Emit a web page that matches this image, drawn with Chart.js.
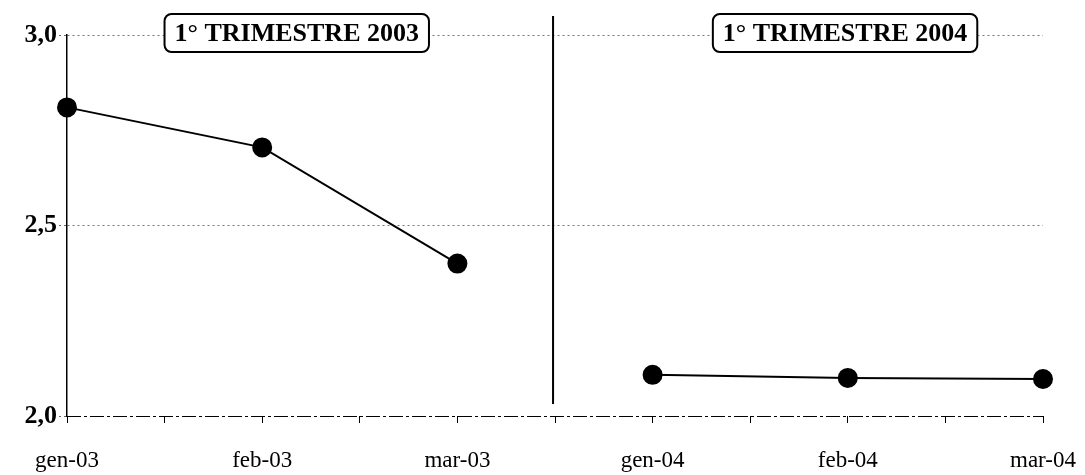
<!DOCTYPE html>
<html>
<head>
<meta charset="utf-8">
<script src="https://cdn.jsdelivr.net/npm/chart.js@4"></script>
<style>
  html, body { margin: 0; padding: 0; background: #fff; }
  #wrap { width: 1085px; height: 475px; }
</style>
</head>
<body>
<div id="wrap"><canvas id="chart" width="1085" height="475"></canvas></div>
<script>
// months on the x axis (index = position)
const months = ['gen-03', 'feb-03', 'mar-03', 'gen-04', 'feb-04', 'mar-04'];
const values2003 = [2.81, 2.705, 2.40];
const values2004 = [2.108, 2.10, 2.097];
const yTicks = [2.0, 2.5, 3.0];
const boxTitles = ['1° TRIMESTRE 2003', '1° TRIMESTRE 2004'];

const serif = '"Liberation Serif", "DejaVu Serif", serif';

// dash-dot base line, divider between the two quarters, title boxes
const decorations = {
  id: 'decorations',
  beforeDatasetsDraw(chart) {
    const { ctx, chartArea } = chart;
    ctx.save();
    ctx.strokeStyle = '#000';
    ctx.lineWidth = 1;
    ctx.setLineDash([14, 3, 3, 3]);
    ctx.beginPath();
    ctx.moveTo(chartArea.left, chartArea.bottom + 0.5);
    ctx.lineTo(chartArea.right, chartArea.bottom + 0.5);
    ctx.stroke();
    ctx.restore();
  },
  afterDatasetsDraw(chart) {
    const { ctx, chartArea, scales } = chart;
    const x = scales.x;
    ctx.save();
    const dx = x.getPixelForValue(2.49);
    ctx.strokeStyle = '#000';
    ctx.lineWidth = 2;
    ctx.beginPath();
    ctx.moveTo(dx, chartArea.top - 19);
    ctx.lineTo(dx, chartArea.bottom - 12);
    ctx.stroke();

    ctx.font = 'bold 26px ' + serif;
    ctx.textAlign = 'center';
    ctx.textBaseline = 'middle';
    const centers = [1.177, 3.986];
    boxTitles.forEach((t, i) => {
      const cx = x.getPixelForValue(centers[i]);
      const w = ctx.measureText(t).width + 20;
      const h = 38;
      const top = chartArea.top - 21;
      ctx.beginPath();
      ctx.roundRect(cx - w / 2, top, w, h, 7);
      ctx.fillStyle = '#fff';
      ctx.fill();
      ctx.lineWidth = 2;
      ctx.strokeStyle = '#000';
      ctx.stroke();
      ctx.fillStyle = '#000';
      ctx.fillText(t, cx, top + h / 2 + 1);
    });
    ctx.restore();
  }
};

new Chart(document.getElementById('chart'), {
  type: 'line',
  data: {
    datasets: [
      {
        data: values2003.map((v, i) => ({ x: i, y: v })),
        borderColor: '#000',
        backgroundColor: '#000',
        borderWidth: 2,
        pointRadius: 9,
        pointHoverRadius: 9,
        tension: 0,
        clip: false
      },
      {
        data: values2004.map((v, i) => ({ x: i + 3, y: v })),
        borderColor: '#000',
        backgroundColor: '#000',
        borderWidth: 2,
        pointRadius: 9,
        pointHoverRadius: 9,
        tension: 0,
        clip: false
      }
    ]
  },
  options: {
    responsive: false,
    animation: false,
    layout: { padding: { top: 35, right: 42 } },
    plugins: { legend: { display: false }, tooltip: { enabled: false } },
    scales: {
      x: {
        type: 'linear',
        min: 0,
        max: 5,
        afterFit: (s) => { s.height = 59; s.paddingLeft = 0; s.paddingRight = 0; },
        afterBuildTicks: (s) => {
          const t = [];
          for (let i = 0; i <= 10; i++) t.push({ value: i / 2 });
          s.ticks = t;
        },
        ticks: {
          autoSkip: false,
          maxRotation: 0,
          padding: 24,
          color: '#000',
          font: { family: serif, size: 23 },
          callback: (v) => Number.isInteger(v) ? months[v] : ''
        },
        grid: { drawOnChartArea: false, tickLength: 7, color: '#000', lineWidth: 1, tickBorderDash: [] },
        border: { display: false, dash: [] }
      },
      y: {
        min: 2.0,
        max: 3.0,
        afterFit: (s) => { s.width = 67; },
        afterBuildTicks: (s) => { s.ticks = yTicks.map(v => ({ value: v })); },
        ticks: {
          color: '#000',
          padding: 2,
          font: { family: serif, size: 26, weight: 'bold' },
          callback: (v) => v.toFixed(1).replace('.', ',')
        },
        grid: {
          color: (c) => c.tick && c.tick.value === 2.0 ? 'transparent' : '#777',
          lineWidth: 1,
          tickLength: 8,
          tickColor: '#666',
          tickBorderDash: [2, 3]
        },
        border: { color: '#000', width: 1.5, dash: [2, 3] }
      }
    }
  },
  plugins: [decorations]
});
</script>
</body>
</html>
